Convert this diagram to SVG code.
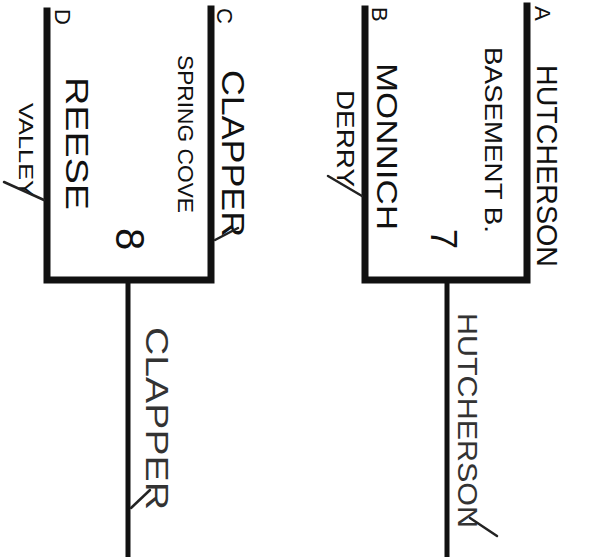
<svg xmlns="http://www.w3.org/2000/svg" width="590" height="557" viewBox="0 0 590 557">
<style>
.br{fill:none;stroke:#111;stroke-width:7;stroke-linejoin:miter;stroke-linecap:square}
.st{stroke:#111;stroke-width:5}
.t{font-family:"Liberation Sans","DejaVu Sans",sans-serif;fill:#111;dominant-baseline:central}
.h{font-family:"Liberation Sans","DejaVu Sans",sans-serif;fill:#333;dominant-baseline:central}
.lbl{font-family:"Liberation Sans","DejaVu Sans",sans-serif;fill:#111;font-size:22px;dominant-baseline:central}
.sl{stroke:#222;stroke-width:2.5;fill:none;stroke-linecap:round}
</style>
<rect width="590" height="557" fill="#fff"/>
<g id="connectors">
  <path class="br" d="M47,11 V280 H211 V9"/>
  <path class="br" d="M365,9 V280 H527 V6"/>
  <line class="st" x1="128" y1="283" x2="128" y2="557"/>
  <line class="st" x1="447" y1="283" x2="447" y2="557"/>
</g>
<g id="node-A">
  <text class="lbl" transform="translate(542,6) rotate(90)">A</text>
  <text class="t" font-size="30" textLength="202" lengthAdjust="spacingAndGlyphs" transform="translate(547,65) rotate(90)">HUTCHERSON</text>
  <text class="t" font-size="24" textLength="186" lengthAdjust="spacingAndGlyphs" transform="translate(493,47) rotate(90)">BASEMENT B.</text>
</g>
<g id="node-B">
  <text class="lbl" transform="translate(379,7) rotate(90)">B</text>
  <text class="t" font-size="30" textLength="167" lengthAdjust="spacingAndGlyphs" transform="translate(387,63) rotate(90)">MONNICH</text>
  <text class="t" font-size="24" textLength="97" lengthAdjust="spacingAndGlyphs" transform="translate(345,90) rotate(90)">DERRY</text>
  <path class="sl" d="M328,176 L362,196"/>
</g>
<g id="node-C">
  <text class="lbl" transform="translate(224,8) rotate(90)">C</text>
  <text class="t" font-size="32" textLength="167" lengthAdjust="spacingAndGlyphs" transform="translate(233,70) rotate(90)">CLAPPER</text>
  <text class="t" font-size="22" textLength="158" lengthAdjust="spacingAndGlyphs" transform="translate(185,55) rotate(90)">SPRING COVE</text>
  <path class="sl" d="M215,240 L238,228"/>
</g>
<g id="node-D">
  <text class="lbl" transform="translate(62,9) rotate(90)">D</text>
  <text class="t" font-size="32" textLength="133" lengthAdjust="spacingAndGlyphs" transform="translate(77,77) rotate(90)">REESE</text>
  <text class="t" font-size="20" textLength="94" lengthAdjust="spacingAndGlyphs" transform="translate(26,103) rotate(90)">VALLEY</text>
  <path class="sl" d="M4,182 L44,200"/>
</g>
<g id="game-7">
  <text class="t" font-size="36" transform="translate(443,229) rotate(90)">7</text>
</g>
<g id="game-8">
  <text class="t" font-size="40" transform="translate(130,228) rotate(90)">8</text>
</g>
<g id="winner-CD">
  <text class="h" font-size="32" textLength="183" lengthAdjust="spacingAndGlyphs" transform="translate(157,327) rotate(90)">CLAPPER</text>
  <path class="sl" d="M131,508 L150,490" stroke="#333"/>
</g>
<g id="winner-AB">
  <text class="h" font-size="28" textLength="215" lengthAdjust="spacingAndGlyphs" transform="translate(467,313) rotate(90)">HUTCHERSON</text>
  <path class="sl" d="M470,518 L497,536" stroke="#333"/>
</g>
</svg>
